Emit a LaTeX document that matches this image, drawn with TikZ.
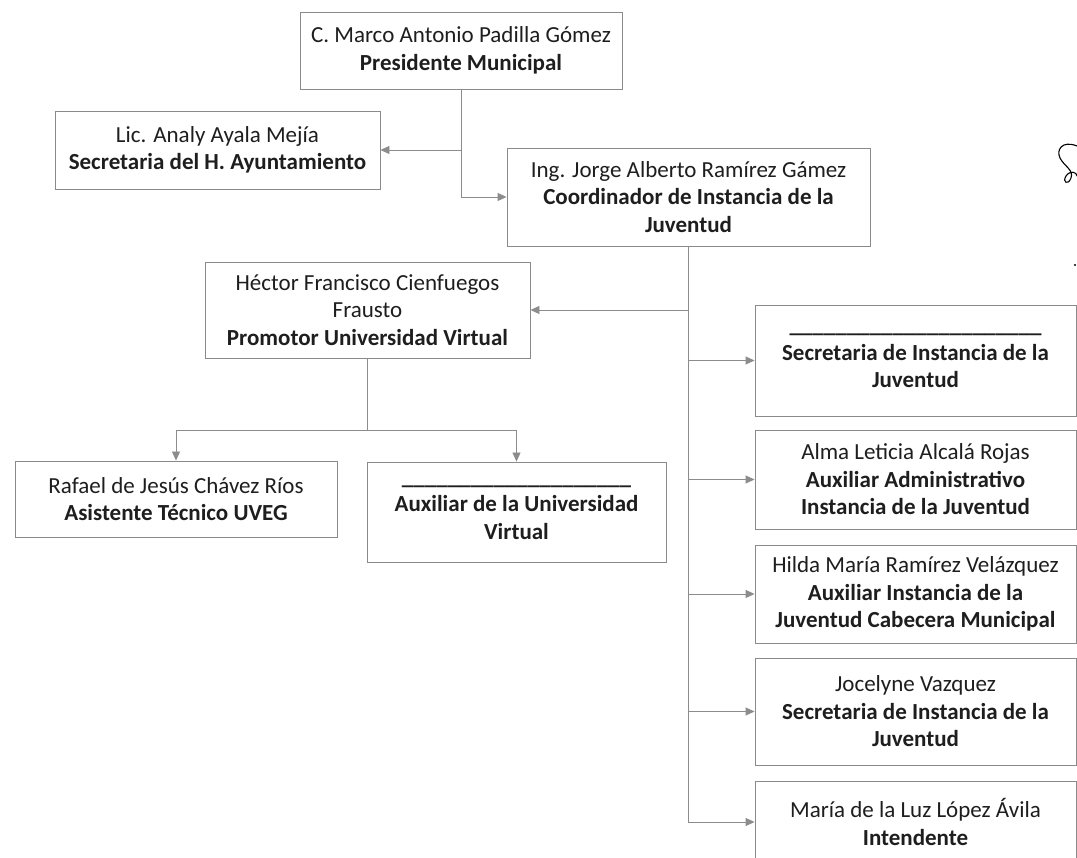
\documentclass[tikz,border=0pt]{standalone}
\usepackage{fontspec}
\setmainfont{Carlito}
\usetikzlibrary{arrows.meta}
\definecolor{boxgray}{HTML}{8A8A8A}
\definecolor{linegray}{HTML}{8C8C8C}
\definecolor{txt}{HTML}{1E1E1E}
\tikzset{
  box/.style={draw=boxgray, line width=0.9pt, align=center, inner sep=0pt,
    font=\fontsize{23}{27.5}\selectfont, text=txt, fill=white},
  conn/.style={draw=linegray, line width=0.9pt,
    -{Triangle[length=9pt,width=8pt,fill=linegray]}},
  plain/.style={draw=linegray, line width=0.9pt}
}
\newcommand{\blankline}[1]{\textbf{\foreach \i in {1,...,#1}{\_}}}
\begin{document}
\begin{tikzpicture}[x=1pt,y=-1pt]
\useasboundingbox (0,0) rectangle (1077,858);

\node[box, minimum width=322pt, minimum height=77pt] (pres) at (461,50.5)
  {C. Marco Antonio Padilla Gómez\\\textbf{Presidente Municipal}};
\node[box, minimum width=325pt, minimum height=78pt] (sec) at (217.5,150)
  {Lic. Analy Ayala Mejía\\\textbf{Secretaria del H. Ayuntamiento}};
\node[box, minimum width=363pt, minimum height=98pt] (coord) at (688.5,197)
  {Ing. Jorge Alberto Ramírez Gámez\\\textbf{Coordinador de Instancia de la}\\\textbf{Juventud}};
\node[box, minimum width=325pt, minimum height=96pt] (hector) at (367.5,310)
  {Héctor Francisco Cienfuegos\\Frausto\\\textbf{Promotor Universidad Virtual}};
\node[box, minimum width=322pt, minimum height=76pt] (rafael) at (176,499)
  {Rafael de Jesús Chávez Ríos\\\textbf{Asistente Técnico UVEG}};
\node[box, minimum width=299pt, minimum height=100pt] (aux) at (516.5,512)
  {\blankline{20}\\\textbf{Auxiliar de la Universidad}\\\textbf{Virtual}};

\node[box, minimum width=321pt, minimum height=111pt] (r1) at (915.5,360.5)
  {\blankline{22}\\\textbf{Secretaria de Instancia de la}\\\textbf{Juventud}};
\node[box, minimum width=321pt, minimum height=99pt] (r2) at (915.5,479.5)
  {Alma Leticia Alcalá Rojas\\\textbf{Auxiliar Administrativo}\\\textbf{Instancia de la Juventud}};
\node[box, minimum width=321pt, minimum height=98pt] (r3) at (915.5,594)
  {Hilda María Ramírez Velázquez\\\textbf{Auxiliar Instancia de la}\\\textbf{Juventud Cabecera Municipal}};
\node[box, minimum width=321pt, minimum height=107pt] (r4) at (915.5,711.5)
  {Jocelyne Vazquez\\\textbf{Secretaria de Instancia de la}\\\textbf{Juventud}};
\node[box, minimum width=321pt, minimum height=82pt] (r5) at (915.5,822)
  {María de la Luz López Ávila\\\textbf{Intendente}};

% connectors
\draw[conn] (pres.south) |- (sec.east);
\draw[conn] (pres.south) |- (coord.west);
\draw[conn] (coord.south) |- (hector.east);
\foreach \r in {r1,r2,r3,r4,r5} { \draw[conn] (coord.south) |- (\r.west); }
\coordinate (hj) at ([yshift=-72pt]hector.south);
\draw[plain] (hector.south) -- (hj);
\draw[conn] (hj) -| (rafael.north);
\draw[conn] (hj) -| (aux.north);

% signature fragment at the right edge
\draw[black, line width=1.1pt, line cap=round]
  (1077,146) .. controls (1062,140) and (1056,150) .. (1060,158)
  .. controls (1064,166) and (1074,170) .. (1071,178)
  .. controls (1068,186) and (1062,182) .. (1066,176)
  .. controls (1070,170) and (1077,172) .. (1077,176);
\fill[black] (1075,265) circle (1.2pt);
\end{tikzpicture}
\end{document}
